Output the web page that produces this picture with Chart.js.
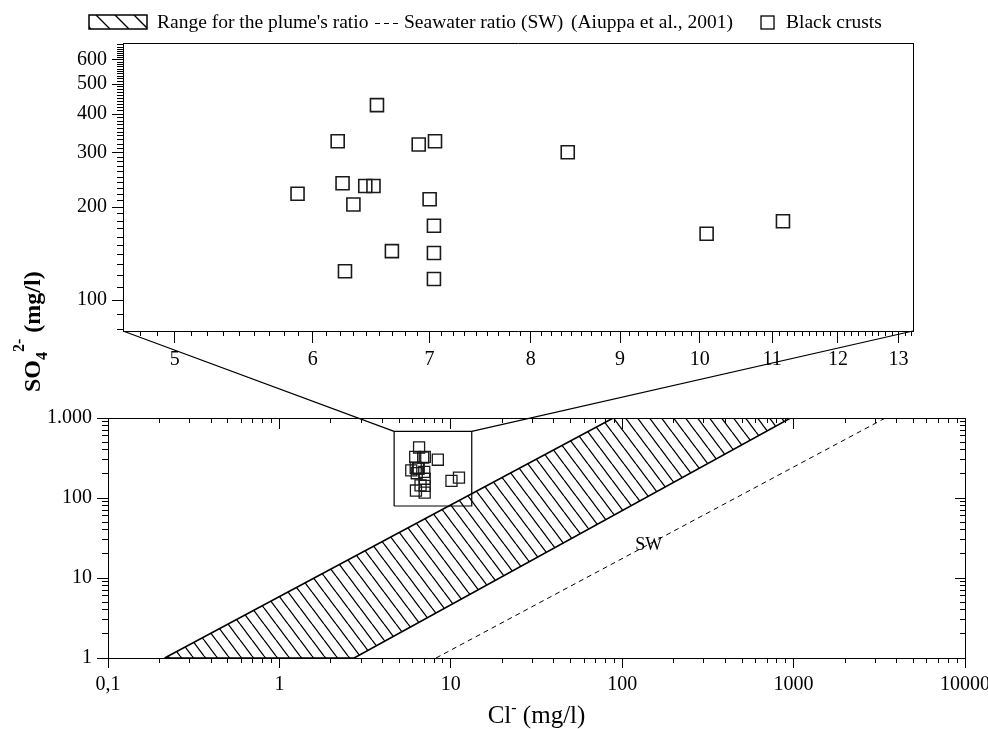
<!DOCTYPE html>
<html>
<head>
<meta charset="utf-8">
<title>SO4 vs Cl - black crusts</title>
<script src="https://cdn.jsdelivr.net/npm/chart.js@4.4.1/dist/chart.umd.min.js"></script>
<style>
  body { margin: 0; background: #fff; }
  #wrap { position: relative; width: 988px; height: 729px; }
  #wrap canvas { position: absolute; left: 0; top: 0; }
</style>
</head>
<body>
<div id="wrap">
  <canvas id="main_chart" width="988" height="729"></canvas>
  <canvas id="zoom_chart" width="988" height="729"></canvas>
</div>

<script>
// black crusts: Cl- and SO4 2- (mg/l)
var cl_vals  = [6.53, 6.20, 6.90, 7.05, 6.24, 6.43, 6.50, 5.88, 6.33, 7.00, 7.04, 6.66, 7.04, 6.26, 7.04, 8.40, 10.09, 11.16];
var so4_vals = [428, 327, 319, 327, 239, 234, 234, 221, 204, 212, 174, 144, 142, 124, 117, 301, 164, 180];

// range for the plume's ratio (corners of the band) and seawater ratio line
var plume_cl  = [0.214, 88.7, 961, 2.73, 0.214];
var plume_so4 = [1, 1000, 1000, 1, 1];
var sw_cl  = [8.2, 3430];
var sw_so4 = [1, 1000];

// axes
var main_cl  = [0.1, 10000];
var main_so4 = [1, 1000];
var zoom_cl  = [4.67, 13.25];
var zoom_so4 = [79.4, 680];

var main_xticks  = [0.1, 1, 10, 100, 1000, 10000];
var main_xlabels = ['0,1', '1', '10', '100', '1000', '10000'];
var main_yticks  = [1, 10, 100, 1000];
var main_ylabels = ['1', '10', '100', '1.000'];
var zoom_xticks  = [5, 6, 7, 8, 9, 10, 11, 12, 13];
var zoom_yticks  = [100, 200, 300, 400, 500, 600];

var legend_labels = ["Range for the plume's ratio", 'Seawater ratio (SW)', '(Aiuppa et al., 2001)', 'Black crusts'];

var FONT = "'Liberation Serif', 'Times New Roman', serif";

// minor tick helpers
function minorLog(r) {
  var out = [];
  for (var e = -2; e <= 5; e++) {
    for (var m = 2; m <= 9; m++) {
      var v = m * Math.pow(10, e);
      if (v > r[0] && v < r[1]) out.push(v);
    }
  }
  return out;
}
var zoom_xminor = [];
for (var n = 4; n <= 13; n++) {
  for (var k = 1; k <= 8; k++) {
    var v = n + k / 9;
    if (v > zoom_cl[0] && v < zoom_cl[1]) zoom_xminor.push(v);
  }
}
var zoom_yminor = [80, 90];
for (var w = 110; w < zoom_so4[1]; w += 10) if (w % 100) zoom_yminor.push(w);

function pts(xs, ys) { return xs.map(function (x, i) { return { x: x, y: ys[i] }; }); }

function makeHatch() {
  var c = document.createElement('canvas');
  c.width = 12; c.height = 16;
  var g = c.getContext('2d');
  g.strokeStyle = '#000'; g.lineWidth = 1.3;
  [-12, 0, 12].forEach(function (dx) {
    g.beginPath(); g.moveTo(dx, 0); g.lineTo(dx + 12, 16); g.stroke();
  });
  return g.createPattern(c, 'repeat');
}
var hatch = makeHatch();

function logAxis(axis, position, range, vals, len, labels, border, fitSize) {
  var a = {
    type: 'logarithmic', axis: axis, position: position,
    min: range[0], max: range[1],
    afterBuildTicks: function (s) { s.ticks = vals.map(function (v) { return { value: v }; }); },
    grid: { display: len > 0, drawOnChartArea: false, drawTicks: len > 0, color: '#000', tickLength: len, tickWidth: 1 },
    border: { display: !!border, color: '#000', width: 1 },
    ticks: { display: false }
  };
  if (labels) {
    a.ticks = {
      display: true, autoSkip: false, maxRotation: 0, padding: 5, color: '#000',
      font: { family: FONT, size: 20 },
      callback: function (val, i) { return labels[i]; }
    };
  }
  if (fitSize) {
    a.afterFit = function (s) {
      if (axis === 'x') { s.height = fitSize; s.paddingRight = 0; } else s.width = fitSize;
    };
  }
  return a;
}

// ---------- zoomed chart (top) ----------
var legendPlugin = {
  id: 'legendRow',
  afterDraw: function (chart) {
    var c = chart.ctx;
    c.save();
    c.font = '19.5px ' + FONT;
    c.textBaseline = 'alphabetic';
    // hatched box
    c.save();
    c.beginPath(); c.rect(89, 15, 58, 14); c.clip();
    c.lineWidth = 1.4; c.strokeStyle = '#000';
    c.beginPath();
    for (var hx = 77; hx < 150; hx += 19) { c.moveTo(hx, 15); c.lineTo(hx + 14, 29); }
    c.stroke();
    c.restore();
    c.strokeStyle = '#000'; c.lineWidth = 1.5; c.strokeRect(89, 15, 58, 14);
    c.fillStyle = '#000';
    c.fillText(legend_labels[0], 157, 28);
    c.setLineDash([5, 4]); c.lineWidth = 1;
    c.beginPath(); c.moveTo(375, 23.5); c.lineTo(401, 23.5); c.stroke();
    c.setLineDash([]);
    c.fillText(legend_labels[1], 404, 28);
    c.fillText(legend_labels[2], 571, 28);
    c.lineWidth = 1.3; c.strokeRect(761, 16, 13, 13);
    c.fillText(legend_labels[3], 786, 28);
    c.restore();
  }
};

var zoomChart = new Chart(document.getElementById('zoom_chart').getContext('2d'), {
  type: 'scatter',
  data: {
    datasets: [{
      label: legend_labels[3],
      data: pts(cl_vals, so4_vals),
      pointStyle: 'rect', pointRadius: 9.2, borderWidth: 1.6,
      borderColor: '#1a1a1a', backgroundColor: 'rgba(0,0,0,0)',
      xAxisID: 'x', yAxisID: 'y'
    }]
  },
  options: {
    responsive: false, animation: false, events: [],
    layout: { padding: { left: 63, right: 75, top: 43, bottom: 353 } },
    plugins: { legend: { display: false }, tooltip: { enabled: false } },
    scales: {
      x: logAxis('x', 'bottom', zoom_cl, zoom_xticks, 12, zoom_xticks.map(String), true, 45),
      xMinor: logAxis('x', { y: zoom_so4[0] }, zoom_cl, zoom_xminor, 5),
      xTop: logAxis('x', { y: zoom_so4[1] }, zoom_cl, [], 0, null, true),
      y: logAxis('y', 'left', zoom_so4, zoom_yticks, 11, zoom_yticks.map(String), true, 60),
      yMinor: logAxis('y', { x: zoom_cl[0] }, zoom_so4, zoom_yminor, 6),
      yRight: logAxis('y', { x: zoom_cl[1] }, zoom_so4, [], 0, null, true)
    }
  },
  plugins: [legendPlugin]
});

// ---------- full range chart (bottom) ----------
// text runs with sub/superscripts, drawn left to right from x
function drawRuns(c, runs, x, y) {
  var cx = x;
  runs.forEach(function (r) {
    c.font = r.font;
    c.fillText(r.t, cx, y + (r.dy || 0));
    cx += c.measureText(r.t).width;
  });
}
function runsWidth(c, runs) {
  var t = 0;
  runs.forEach(function (r) { c.font = r.font; t += c.measureText(r.t).width; });
  return t;
}

var annotPlugin = {
  id: 'annot',
  afterDatasetsDraw: function (chart) {
    var c = chart.ctx, sx = chart.scales.x, sy = chart.scales.y;
    var za = zoomChart.chartArea;
    c.save();
    c.strokeStyle = '#000'; c.lineWidth = 1.2;
    c.beginPath();
    c.moveTo(za.left, za.bottom);
    c.lineTo(sx.getPixelForValue(zoom_cl[0]), sy.getPixelForValue(zoom_so4[1]));
    c.moveTo(za.right, za.bottom);
    c.lineTo(sx.getPixelForValue(zoom_cl[1]), sy.getPixelForValue(zoom_so4[1]));
    c.stroke();

    c.fillStyle = '#000';
    c.textAlign = 'center'; c.textBaseline = 'middle';
    c.font = '18px ' + FONT;
    c.fillText('SW', sx.getPixelForValue(143), sy.getPixelForValue(26));

    // x title: Cl- (mg/l)
    c.textAlign = 'left'; c.textBaseline = 'alphabetic';
    var xt = [
      { t: 'Cl', font: '25px ' + FONT },
      { t: '-', font: '16px ' + FONT, dy: -10 },
      { t: ' (mg/l)', font: '25px ' + FONT }
    ];
    drawRuns(c, xt, (chart.chartArea.left + chart.chartArea.right) / 2 - runsWidth(c, xt) / 2, 723);

    // y title: SO4 2- (mg/l), rotated, read bottom to top
    c.translate(40, 392);
    c.rotate(-Math.PI / 2);
    drawRuns(c, [
      { t: 'SO', font: 'bold 24px ' + FONT },
      { t: '4', font: 'bold 16px ' + FONT, dy: 7 },
      { t: '2-', font: 'bold 16px ' + FONT, dy: -16 },
      { t: ' (mg/l)', font: 'bold 24px ' + FONT }
    ], 0, 0);
    c.restore();
  }
};

var mainChart = new Chart(document.getElementById('main_chart').getContext('2d'), {
  type: 'scatter',
  data: {
    datasets: [{
      label: legend_labels[3],
      data: pts(cl_vals, so4_vals),
      pointStyle: 'rect', pointRadius: 7.8, borderWidth: 1.3,
      borderColor: '#1a1a1a', backgroundColor: 'rgba(0,0,0,0)',
      xAxisID: 'x', yAxisID: 'y'
    }, {
      label: 'zoom window',
      data: pts([zoom_cl[0], zoom_cl[1], zoom_cl[1], zoom_cl[0], zoom_cl[0]],
                [zoom_so4[0], zoom_so4[0], zoom_so4[1], zoom_so4[1], zoom_so4[0]]),
      showLine: true, pointRadius: 0, borderColor: '#000', borderWidth: 1.2,
      xAxisID: 'x', yAxisID: 'y'
    }, {
      label: legend_labels[1],
      data: pts(sw_cl, sw_so4),
      showLine: true, pointRadius: 0, borderColor: '#000', borderWidth: 1, borderDash: [5, 4],
      xAxisID: 'x', yAxisID: 'y'
    }, {
      label: legend_labels[0],
      data: pts(plume_cl, plume_so4),
      showLine: true, fill: 'shape', backgroundColor: hatch,
      pointRadius: 0, borderColor: '#000', borderWidth: 1.6,
      xAxisID: 'x', yAxisID: 'y'
    }]
  },
  options: {
    responsive: false, animation: false, events: [],
    layout: { padding: { left: 48, right: 23, top: 418, bottom: 21 } },
    plugins: { legend: { display: false }, tooltip: { enabled: false } },
    scales: {
      x: logAxis('x', 'bottom', main_cl, main_xticks, 10, main_xlabels, true, 50),
      xMinor: logAxis('x', { y: main_so4[0] }, main_cl, minorLog(main_cl), 5),
      xTop: logAxis('x', { y: main_so4[1] }, main_cl, main_xticks, 10, null, true),
      xTopMinor: logAxis('x', { y: main_so4[1] }, main_cl, minorLog(main_cl), 5),
      y: logAxis('y', 'left', main_so4, main_yticks, 11, main_ylabels, true, 60),
      yMinor: logAxis('y', { x: main_cl[0] }, main_so4, minorLog(main_so4), 6),
      yRight: logAxis('y', { x: main_cl[1] }, main_so4, main_yticks, 10, null, true),
      yRightMinor: logAxis('y', { x: main_cl[1] }, main_so4, minorLog(main_so4), 5)
    }
  },
  plugins: [annotPlugin]
});
</script>
</body>
</html>
